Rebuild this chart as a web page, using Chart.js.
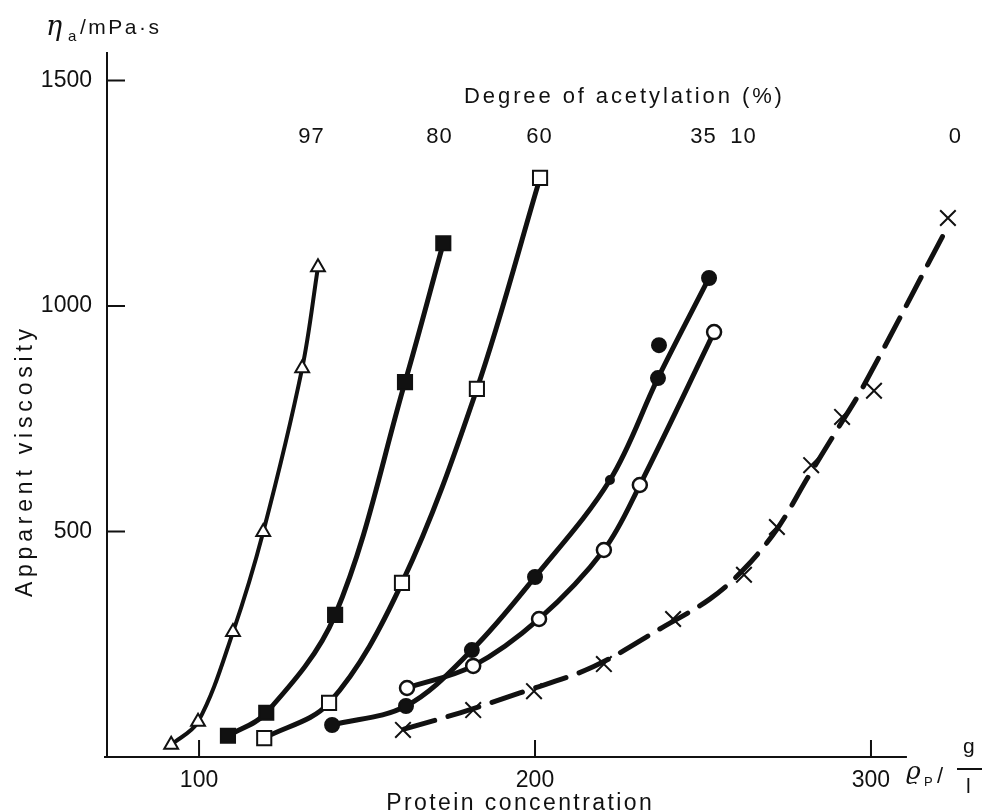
<!DOCTYPE html>
<html><head><meta charset="utf-8">
<script src="https://cdn.jsdelivr.net/npm/chart.js@4/dist/chart.umd.min.js"></script>
<style>html,body{margin:0;padding:0;background:#fff}canvas{display:block}</style>
</head><body>
<canvas id="c" width="982" height="812"></canvas>
<script>
// ---- data ----
const xTicks = [100, 200, 300];
const yTicks = [500, 1000, 1500];
const acetylLabels = ['97', '80', '60', '35', '10', '0'];

const tri97X = [91.7, 99.7, 110.1, 119.1, 130.7, 135.4];
const tri97Y = [27, 78, 277, 499, 862, 1086];

const sq80X = [108.6, 120.0, 140.5, 161.3, 172.7];
const sq80Y = [47, 98, 315, 831, 1139];

const sq60X = [119.4, 138.7, 160.4, 182.7, 201.5];
const sq60Y = [42, 120, 386, 816, 1284];

const ci35X = [139.6, 161.6, 181.2, 200.0, 222.3, 236.6, 251.8];
const ci35Y = [71, 113, 237, 399, 614, 840, 1062];
const ci35StrayX = [236.9];
const ci35StrayY = [913];

const ci10X = [161.9, 181.6, 201.2, 220.5, 231.2, 253.3];
const ci10Y = [153, 202, 306, 459, 603, 942];

// 0 % : measured points (crosses) and the fitted dashed curve drawn through them
const x0X = [160.7, 181.6, 199.7, 220.5, 241.1, 262.2, 272.0, 282.2, 291.4, 300.9, 322.9];
const x0Y = [60, 104, 146, 206, 306, 404, 510, 647, 754, 812, 1195];
const x0CurveX = [161.0, 177.7, 195.5, 217.3, 238.1, 252.0, 262.0, 272.0, 281.3, 290.2, 297.6, 322.0];
const x0CurveY = [62, 98, 142, 200, 288, 350, 415, 505, 621, 729, 820, 1164];

// ---- chart ----
const INK = '#111';
const FONT = "'Liberation Sans', Arial, sans-serif";
function pts(xs, ys) { return xs.map((x, i) => ({ x: x, y: ys[i] })); }

const base = {
  borderColor: INK, pointBorderColor: INK, fill: false,
  tension: 0.35, pointBorderWidth: 2,
  borderCapStyle: 'round', borderJoinStyle: 'round'
};

const datasets = [
  Object.assign({}, base, { data: pts(tri97X, tri97Y), borderWidth: 4,
    pointStyle: 'triangle', pointRadius: 8, pointBackgroundColor: '#fff' }),
  Object.assign({}, base, { data: pts(sq80X, sq80Y), borderWidth: 5,
    pointStyle: 'rect', pointRadius: 10, pointBackgroundColor: INK }),
  Object.assign({}, base, { data: pts(sq60X, sq60Y), borderWidth: 5,
    pointStyle: 'rect', pointRadius: 10, pointBackgroundColor: '#fff' }),
  Object.assign({}, base, { data: pts(ci35X, ci35Y), borderWidth: 5,
    pointStyle: 'circle', pointRadius: [7, 7, 7, 7, 4, 7, 7], pointBackgroundColor: INK }),
  Object.assign({}, base, { data: pts(ci35StrayX, ci35StrayY), showLine: false,
    pointStyle: 'circle', pointRadius: 7, pointBackgroundColor: INK }),
  Object.assign({}, base, { data: pts(ci10X, ci10Y), borderWidth: 5,
    pointStyle: 'circle', pointRadius: 7, pointBorderWidth: 2.5, pointBackgroundColor: '#fff' }),
  Object.assign({}, base, { data: pts(x0X, x0Y), showLine: false,
    pointStyle: 'crossRot', pointRadius: 11, pointBorderWidth: 2, pointBackgroundColor: INK }),
  Object.assign({}, base, { data: pts(x0CurveX, x0CurveY), borderWidth: 5, borderDash: [32, 14],
    pointRadius: 0 })
];

function txt(ctx, s, x, y, font, align, spacing) {
  ctx.font = font;
  ctx.textAlign = align || 'left';
  ctx.letterSpacing = (spacing || 0) + 'px';
  let dx = 0;
  if (align === 'center' && spacing) dx = spacing / 2;
  ctx.fillText(s, x + dx, y);
  ctx.letterSpacing = '0px';
}

const decor = {
  id: 'decor',
  afterDraw(chart, args, opts) {
    const ctx = chart.ctx, xs = chart.scales.x, ys = chart.scales.y;
    const left = xs.getPixelForValue(xs.min);
    const bottom = ys.getPixelForValue(0);
    const top = ys.getPixelForValue(ys.max);
    ctx.save();
    ctx.strokeStyle = INK; ctx.fillStyle = INK; ctx.lineWidth = 2;
    ctx.beginPath();
    ctx.moveTo(left - 3, bottom); ctx.lineTo(xs.getPixelForValue(opts.axisEndX), bottom);
    ctx.moveTo(left, bottom + 1); ctx.lineTo(left, top);
    xTicks.forEach(v => { const p = xs.getPixelForValue(v); ctx.moveTo(p, bottom); ctx.lineTo(p, bottom - 17); });
    yTicks.forEach(v => { const p = ys.getPixelForValue(v); ctx.moveTo(left, p); ctx.lineTo(left + 18, p); });
    ctx.stroke();

    ctx.textBaseline = 'alphabetic';
    // y unit
    txt(ctx, 'η', 46, 35, "italic 27px 'DejaVu Serif', serif", 'left');
    txt(ctx, 'a', 68, 41, "15px " + FONT, 'left');
    txt(ctx, '/mPa·s', 80, 34, "21px " + FONT, 'left', 2.5);

    // header
    txt(ctx, 'Degree of acetylation (%)', 623, 103, "22px " + FONT, 'center', 2.9);
    acetylLabels.forEach((s, i) => {
      txt(ctx, s, xs.getPixelForValue(opts.labelX[i]), 143, "22px " + FONT, 'center', 1);
    });

    // x title
    txt(ctx, 'Protein concentration', 519, 810, "23px " + FONT, 'center', 2.4);
    // x unit
    txt(ctx, 'ϱ', 906, 779, "italic 25px 'DejaVu Serif', serif", 'left');
    txt(ctx, 'P', 924, 786, "13px " + FONT, 'left');
    txt(ctx, '/', 937, 783, "22px " + FONT, 'left');
    txt(ctx, 'g', 963, 753, "21px " + FONT, 'left');
    txt(ctx, 'l', 966, 793, "21px " + FONT, 'left');
    ctx.beginPath(); ctx.moveTo(957, 769); ctx.lineTo(982, 769); ctx.stroke();

    // y title
    ctx.save();
    ctx.translate(32, 463);
    ctx.rotate(-Math.PI / 2);
    txt(ctx, 'Apparent viscosity', 0, 0, "23px " + FONT, 'center', 4.8);
    ctx.restore();
    ctx.restore();
  }
};

new Chart(document.getElementById('c'), {
  type: 'line',
  data: { datasets: datasets },
  plugins: [decor],
  options: {
    responsive: false, animation: false, devicePixelRatio: 1,
    layout: { padding: { top: 52, right: 23, left: 0, bottom: 0 } },
    plugins: {
      legend: { display: false }, tooltip: { enabled: false },
      decor: { axisEndX: 310.7, labelX: [133.3, 171.4, 201.2, 250.0, 261.9, 325.0] }
    },
    scales: {
      x: {
        type: 'linear', min: 72.6, max: 326.2,
        grid: { display: false }, border: { display: false },
        afterBuildTicks: s => { s.ticks = xTicks.map(v => ({ value: v })); },
        afterFit: s => { s.height = 55; },
        ticks: { color: INK, font: { family: FONT, size: 23 }, padding: 2, autoSkip: false, maxRotation: 0,
          callback: v => String(v) }
      },
      y: {
        type: 'linear', min: 0, max: 1563,
        grid: { display: false }, border: { display: false },
        afterBuildTicks: s => { s.ticks = yTicks.map(v => ({ value: v })); },
        afterFit: s => { s.width = 107; },
        ticks: { color: INK, font: { family: FONT, size: 23 }, padding: 7,
          callback: v => String(v) }
      }
    }
  }
});
</script>
</body></html>
